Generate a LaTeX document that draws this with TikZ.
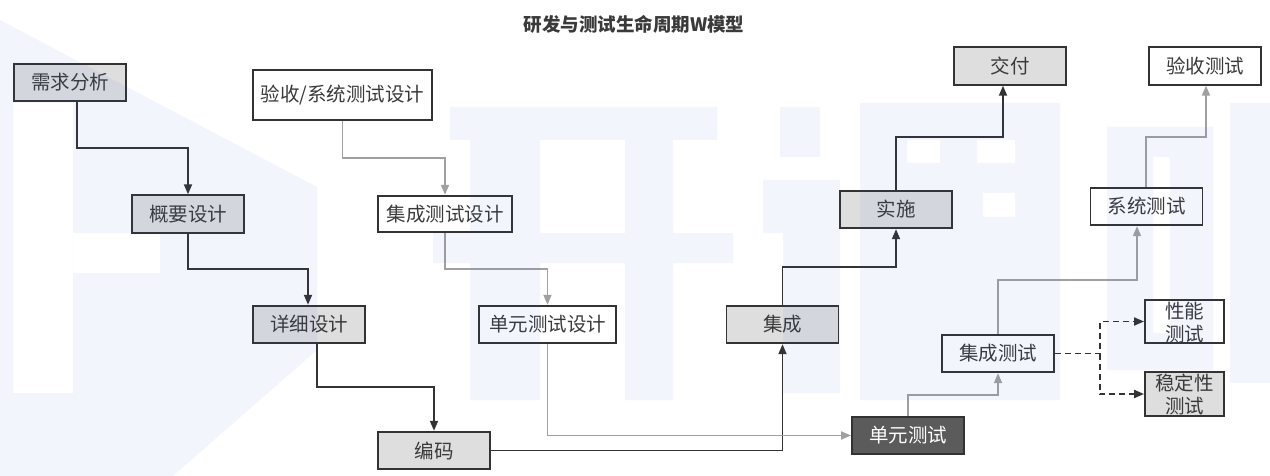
\documentclass[tikz,border=0pt]{standalone}
\usepackage{fontspec}
\setmainfont{Noto Sans CJK SC}
\usetikzlibrary{arrows.meta}
\definecolor{linedark}{HTML}{333333}
\definecolor{linegray}{HTML}{A0A0A0}
\definecolor{boxgray}{HTML}{DEDEDE}
\definecolor{boxdark}{HTML}{5B5B5B}
\definecolor{txt}{HTML}{3A3A3A}
\definecolor{wm}{HTML}{2F6BDB}
\begin{document}
\begin{tikzpicture}[x=1pt,y=-1pt,
  box/.style={draw=linedark, line width=1.9pt, fill=white, inner sep=0pt, text=txt,
              font=\fontsize{19.5}{23}\selectfont, align=center},
  graybox/.style={box, fill=boxgray},
  darkbox/.style={box, fill=boxdark, text=white},
  std/.style={minimum width=112pt, minimum height=37.5pt},
  darr/.style={draw=linedark, line width=1.8pt, -{Triangle[length=10pt,width=8pt]}},
  garr/.style={draw=linegray, line width=1.8pt, -{Triangle[length=10pt,width=8pt]}},
  dasharr/.style={darr, dash pattern=on 6pt off 4pt}]
\useasboundingbox (0,0) rectangle (1270,476);
\fill[white] (0,0) rectangle (1270,476);

% title
\node[font=\fontsize{18.5}{22}\selectfont\bfseries, text=txt] (title) at (634,24) {研发与测试生命周期W模型};

% development branch
\node[graybox, std] (req) at (70,82.5) {需求分析};
\node[graybox, std] (gaiyao) at (188,214) {概要设计};
\node[graybox, std] (xiangxi) at (309,324.5) {详细设计};
\node[graybox, std] (bianma) at (434,450.5) {编码};
\node[graybox, std] (jicheng) at (782.5,324.5) {集成};
\node[graybox, std] (shishi) at (896,209.5) {实施};
\node[graybox, std] (jiaofu) at (1010,66) {交付};

% test design branch
\node[box, minimum width=179pt, minimum height=50pt] (ysd) at (342.5,95) {验收/系统测试设计};
\node[box, minimum width=134pt, minimum height=36.5pt] (jcsd) at (445,214) {集成测试设计};
\node[box, minimum width=137pt, minimum height=37.5pt] (dysd) at (547.5,324.5) {单元测试设计};

% test execution branch
\node[darkbox, std] (dycs) at (908,435.5) {单元测试};
\node[box, std] (jccs) at (998,353.5) {集成测试};
\node[box, std] (xtcs) at (1146.5,206.5) {系统测试};
\node[box, std] (yscs) at (1205,66) {验收测试};
\node[box, minimum width=79pt, minimum height=43.5pt, text depth=-6pt] (xncs) at (1184.5,321.5) {性能\\测试};
\node[graybox, minimum width=79pt, minimum height=44.5pt, text depth=-6pt] (wdx) at (1184.5,394) {稳定性\\测试};

% dark connectors
\draw[darr] ([xshift=7pt]req.south) -- ++(0,46) -| (gaiyao.north);
\draw[darr] (gaiyao.south) -- ++(0,35) -| ([xshift=-1pt]xiangxi.north);
\draw[darr] ([xshift=8pt]xiangxi.south) -- ++(0,43) -| (bianma.north);
\draw[darr] (bianma.east) -| (jicheng.south);
\draw[darr] (jicheng.north) -- ++(0,-38) -| (shishi.south);
\draw[darr] (shishi.north) -- ++(0,-53) -| ([xshift=-7pt]jiaofu.south);

% gray connectors
\draw[garr] (ysd.south) -- ++(0,37) -| (jcsd.north);
\draw[garr] (jcsd.south) -- ++(0,36) -| (dysd.north);
\draw[garr] (dysd.south) |- (dycs.west);
\draw[garr] (dycs.north) -- ++(0,-21) -| (jccs.south);
\draw[garr] (jccs.north) -- ++(0,-54) -| ([xshift=-9.5pt]xtcs.south);
\draw[garr] ([xshift=-0.5pt]xtcs.north) -- ++(0,-50) -| ([xshift=1pt]yscs.south);

% dashed connectors
\coordinate (split) at ([xshift=45pt]jccs.east);
\draw[dasharr] (jccs.east) -- (split) |- (xncs.west);
\draw[dasharr] (split) |- (wdx.west);

% watermark
\begin{scope}[opacity=0.06]
\fill[wm, even odd rule] (0,20) -- (317,187) -- (317,350) -- (173,476) -- (0,476) -- cycle
  (13,103) rectangle (73,393)
  (73,233) rectangle (160,273);
\fill[wm] (450,107) rectangle (717,140)
  (433,233) rectangle (733,263)
  (470,140) rectangle (540,400)
  (625,140) rectangle (673,400);
\fill[wm] (780,107) rectangle (820,157)
  (763,180) rectangle (840,233)
  (783,233) rectangle (840,393);
\fill[wm, even odd rule] (860,103) rectangle (1060,400)
  (907,140) rectangle (940,163)
  (977,140) rectangle (1015,163)
  (983,193) rectangle (1015,217);
\fill[wm, even odd rule] (1107,127) rectangle (1213,370)
  (1153,157) rectangle (1170,333);
\fill[wm] (1230,103) rectangle (1270,383);
\end{scope}
\end{tikzpicture}
\end{document}
